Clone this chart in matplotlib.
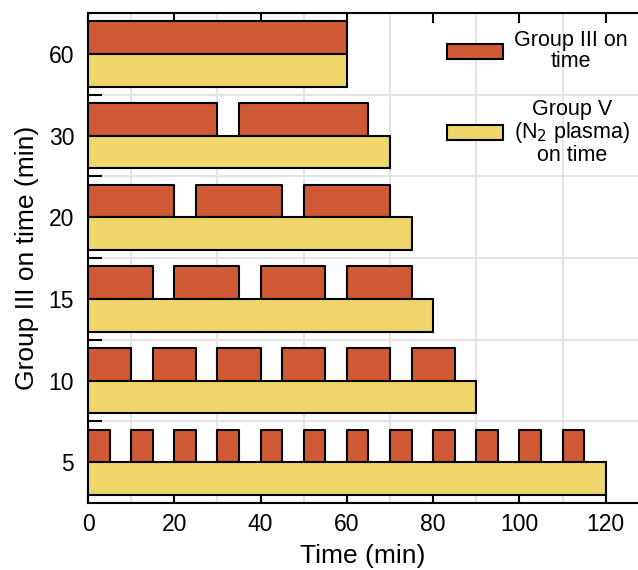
import matplotlib.pyplot as plt
from matplotlib.patches import Patch

plt.rcParams['font.family'] = ['Liberation Sans', 'DejaVu Sans']

# Group III on time (min) for each row, bottom to top
groups = [5, 10, 15, 20, 30, 60]
# red segments (start, length) for each row
group3_segments = [
    [(0, 5), (10, 5), (20, 5), (30, 5), (40, 5), (50, 5),
     (60, 5), (70, 5), (80, 5), (90, 5), (100, 5), (110, 5)],
    [(0, 10), (15, 10), (30, 10), (45, 10), (60, 10), (75, 10)],
    [(0, 15), (20, 15), (40, 15), (60, 15)],
    [(0, 20), (25, 20), (50, 20)],
    [(0, 30), (35, 30)],
    [(0, 60)],
]
# group V (N2 plasma) total on time
group5_total = [120, 90, 80, 75, 70, 60]
xticks = [0, 20, 40, 60, 80, 100, 120]

red = '#D05A36'
yellow = '#F0D56A'

fig = plt.figure(figsize=(6.38, 5.70), dpi=100)
ax = fig.add_axes([0.138, 0.1175, 0.862, 0.8595])

for i, g in enumerate(groups):
    ax.broken_barh(group3_segments[i], (i, 0.4), facecolors=red,
                   edgecolor='black', linewidth=1.5, zorder=3)
    ax.barh(i - 0.4, group5_total[i], height=0.4, align='edge', color=yellow,
            edgecolor='black', linewidth=1.5, zorder=3)

ax.set_xlim(0, 127.5)
ax.set_ylim(-0.5, 5.5)
ax.set_xticks(xticks)
ax.set_xticks(range(0, 130, 10), minor=True)
ax.set_yticks(range(len(groups)))
ax.set_yticklabels([str(g) for g in groups])
ax.set_yticks([i + 0.5 for i in range(len(groups) - 1)], minor=True)

ax.tick_params(axis='x', which='major', direction='in', length=7, width=1.5,
               top=True, labelsize=16.5, pad=7)
ax.tick_params(axis='x', which='minor', length=0)
ax.tick_params(axis='y', which='major', length=0, labelsize=16.5, pad=10)
ax.tick_params(axis='y', which='minor', direction='in', length=10, width=1.5)

ax.grid(True, which='minor', color='#e4e4e4', linewidth=1.5, zorder=0)
ax.set_axisbelow(True)

ax.spines['right'].set_visible(False)
for s in ['left', 'bottom', 'top']:
    ax.spines[s].set_linewidth(1.5)

ax.set_xlabel('Time (min)', fontsize=19, labelpad=6)
ax.set_ylabel('Group III on time (min)', fontsize=19, labelpad=7)

handles = [Patch(facecolor=red, edgecolor='black', linewidth=1.5),
           Patch(facecolor=yellow, edgecolor='black', linewidth=1.5)]
labels = ['Group III on\ntime', 'Group V\n(N$_2$ plasma)\non time']
leg = ax.legend(handles, labels, loc='upper right', frameon=False, fontsize=15.5,
                handlelength=2.6, handleheight=0.72, labelspacing=1.25,
                handletextpad=0.5, borderaxespad=0, borderpad=0,
                bbox_to_anchor=(0.985, 0.966))
for t in leg.get_texts():
    t.set_multialignment('center')
    t.set_linespacing(1.0)

fig.savefig('out.png', dpi=100)
